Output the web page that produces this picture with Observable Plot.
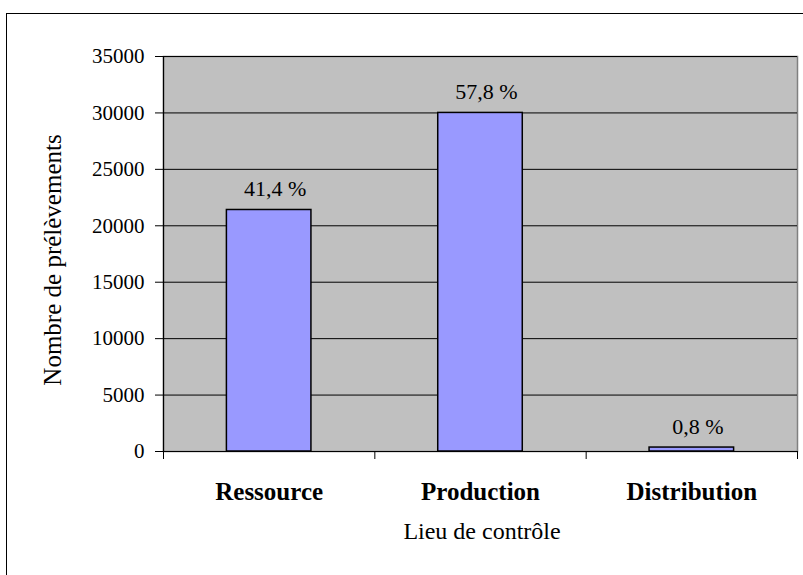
<!DOCTYPE html>
<html>
<head>
<meta charset="utf-8">
<script src="https://cdn.jsdelivr.net/npm/d3@7"></script>
<script src="https://cdn.jsdelivr.net/npm/@observablehq/plot@0.6"></script>
<style>
  html, body { margin: 0; padding: 0; background: #fff; overflow: hidden; }
  #wrap { position: relative; width: 803px; height: 575px; overflow: hidden; }
  #border { position: absolute; left: 6px; top: 13px; width: 820px; height: 600px; border: 1.5px solid #000; box-sizing: border-box; pointer-events: none; }
  svg { display: block; }
  svg text { font-family: Liberation Serif, Times New Roman, serif !important; }
</style>
</head>
<body>
<div id="wrap"><div id="border"></div></div>
<script>
const categories = ["Ressource", "Production", "Distribution"];
const values = [21400, 30000, 350];
const pctLabels = ["41,4 %", "57,8 %", "0,8 %"];
const yTicks = [0, 5000, 10000, 15000, 20000, 25000, 30000, 35000];

const data = categories.map((c, i) => ({i, category: c, value: values[i], label: pctLabels[i]}));
const serif = "Liberation Serif, Times New Roman, serif";

const chart = Plot.plot({
  width: 803,
  height: 575,
  marginLeft: 163,
  marginRight: 6,
  marginTop: 56,
  marginBottom: 124,
  style: {fontFamily: serif, color: "#000", background: "transparent"},
  x: {type: "linear", domain: [0, categories.length]},
  y: {domain: [0, 35000]},
  marks: [
    Plot.frame({fill: "#c0c0c0", stroke: "#808080", strokeWidth: 1.5}),
    Plot.ruleY(yTicks.slice(1), {stroke: "#000", strokeWidth: 1}),
    Plot.rectY(data, {x1: d => d.i + 0.3, x2: d => d.i + 0.7, y: "value", fill: "#9999ff", stroke: "#000", strokeWidth: 1.5}),
    Plot.ruleX([0], {stroke: "#000", strokeWidth: 1.2}),
    Plot.ruleY([0], {stroke: "#000", strokeWidth: 1.2}),
    Plot.axisY({ticks: yTicks, tickSize: 8, tickPadding: 11, tickFormat: d => String(d), fontSize: 21, fontFamily: serif, label: null}),
    Plot.axisX({ticks: d3.range(categories.length + 1), tickSize: 8, tickFormat: () => "", label: null}),
    Plot.axisX({ticks: d3.range(categories.length).map(i => i + 0.5), tickSize: 0, tickPadding: 31, tickFormat: v => categories[Math.floor(v)], fontSize: 25, fontWeight: "bold", fontFamily: serif, label: null}),
    Plot.text(data, {x: d => d.i + 0.5, y: "value", text: "label", dy: -21, dx: 6, fontSize: 22, fontFamily: serif, fill: "#000"}),
    Plot.text(["Lieu de contrôle"], {frameAnchor: "bottom", dy: 87, dx: 1.5, fontSize: 24, fontFamily: serif, fill: "#000"}),
    Plot.text(["Nombre de prélèvements"], {frameAnchor: "left", textAnchor: "middle", dx: -111, dy: 6, rotate: -90, fontSize: 25, fontFamily: serif, fill: "#000"})
  ]
});
document.getElementById("wrap").prepend(chart);
</script>
</body>
</html>
